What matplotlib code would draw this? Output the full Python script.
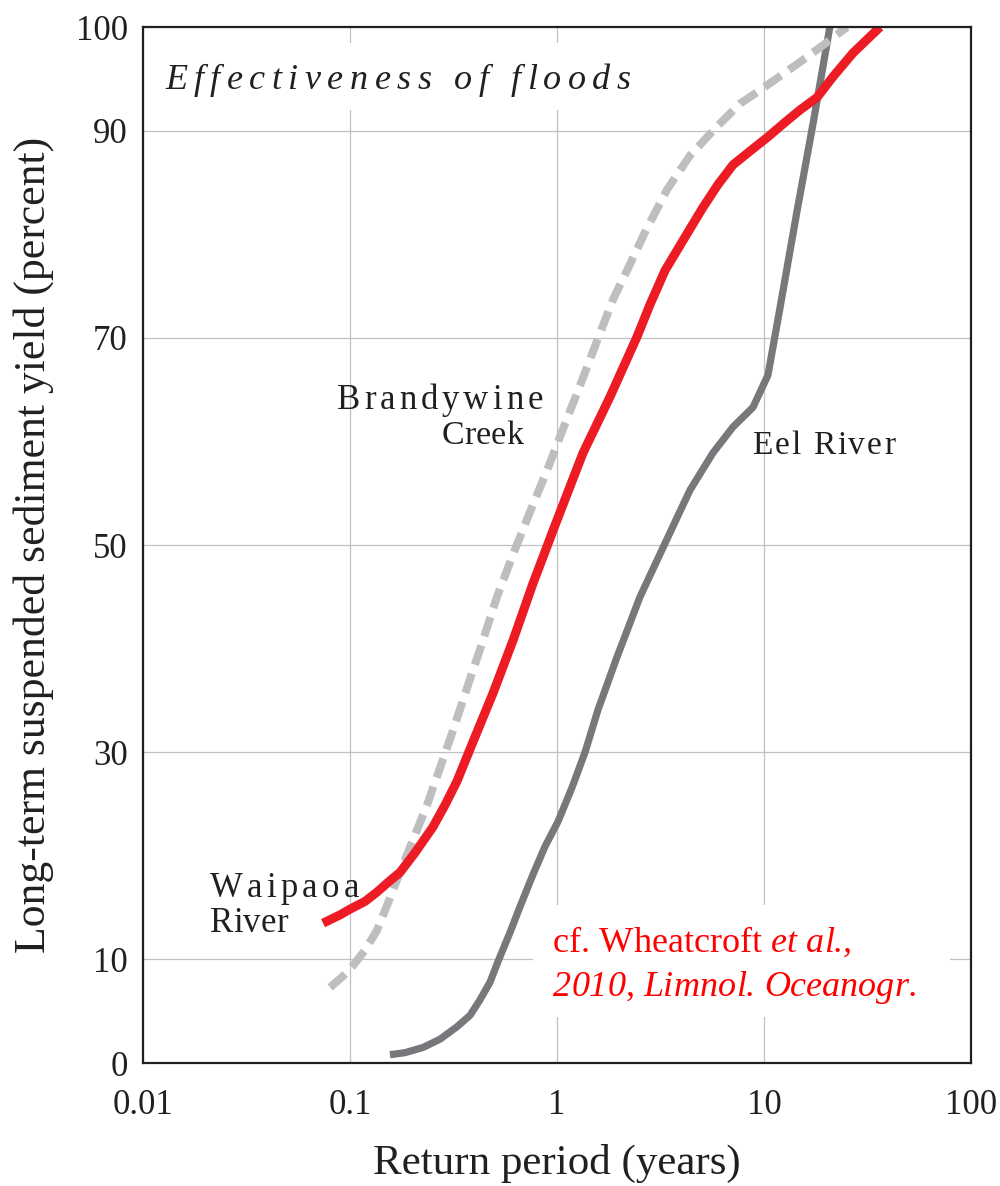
import numpy as np
import matplotlib
matplotlib.use("Agg")
import matplotlib.pyplot as plt
import matplotlib.transforms as mtransforms
from matplotlib.font_manager import FontProperties, findfont, get_font
from matplotlib.patches import Rectangle

# Cumulative suspended sediment yield vs. return period of the transporting flow
waipaoa_period = [0.0741, 0.0895, 0.1011, 0.1182, 0.1350, 0.156, 0.1744, 0.2061, 0.2518,
                  0.2877, 0.3287, 0.3928, 0.4908, 0.6133, 0.7658, 1.0, 1.336, 1.803,
                  2.435, 2.813, 3.325, 4.062, 5.074, 5.995, 7.085, 8.656, 10.45,
                  12.63, 14.93, 18.03, 21.54, 26.92, 36.36]
waipaoa_yield = [13.5, 14.3, 14.9, 15.6, 16.5, 17.6, 18.4, 20.3, 22.8,
                 24.9, 27.2, 31.0, 35.7, 40.8, 46.3, 52.4, 58.9, 64.3,
                 70.1, 73.2, 76.5, 79.4, 82.6, 84.8, 86.7, 88.1, 89.4,
                 90.8, 92.0, 93.2, 95.2, 97.5, 100]

brandywine_period = [0.0801, 0.0915, 0.1034, 0.1182, 0.1350, 0.1509, 0.1687, 0.1886, 0.2108,
                     0.2355, 0.2722, 0.3145, 0.3675, 0.4341, 0.5130, 0.6133, 0.7406, 0.8948,
                     1.069, 1.292, 1.561, 1.865, 2.203, 2.662, 3.400, 4.390, 5.929,
                     7.658, 9.565, 12.63, 16.13, 20.38, 25.18]
brandywine_yield = [7.3, 8.3, 9.4, 10.9, 12.8, 15.2, 17.7, 20.1, 22.5,
                    24.9, 28.5, 32.1, 36.2, 40.5, 45.0, 49.1, 53.2, 57.2,
                    61.2, 65.4, 69.7, 73.7, 76.7, 80.2, 84.3, 87.6, 90.4,
                    92.6, 93.9, 95.6, 97.1, 98.6, 100]

eel_period = [0.156, 0.1844, 0.2253, 0.2722, 0.3287, 0.3800, 0.4246, 0.4746, 0.5188,
              0.5929, 0.6629, 0.7658, 0.8750, 1.011, 1.182, 1.366, 1.578, 1.950,
              2.518, 3.516, 4.390, 5.670, 7.085, 8.850, 10.45, 11.95, 14.4, 17.3, 20.8]
eel_yield = [0.8, 1.0, 1.5, 2.3, 3.5, 4.6, 6.1, 7.8, 9.8,
             12.6, 15.1, 18.2, 20.9, 23.3, 26.6, 30.0, 34.1, 39.2,
             45.0, 51.2, 55.3, 58.9, 61.4, 63.3, 66.4, 72.9, 82.1, 90.8, 100]

x_ticks = [0.01, 0.1, 1, 10, 100]
x_ticklabels = ["0.01", "0.1", "1", "10", "100"]
y_ticks = [0, 10, 30, 50, 70, 90, 100]

RED = "#ED1C24"
LIGHT = "#BCBEC0"
DARK = "#77787B"
INK = "#231F20"
SERIF = "Liberation Serif"

plt.rcParams["font.family"] = [SERIF, "DejaVu Serif"]

fig = plt.figure(figsize=(10, 11.86), dpi=100)
ax = fig.add_axes([0.143, 0.1037, 0.828, 0.8735])


def spaced_text(x, y, pieces, size, track=0.0, color=INK, zorder=3):
    # draw glyph by glyph so letter spacing can be widened
    dx = 0.0
    for s, style in pieces:
        fp = FontProperties(family=SERIF, style=style, size=size)
        font = get_font(findfont(fp))
        font.set_size(size, fig.dpi)
        for ch in s:
            tr = mtransforms.offset_copy(ax.transData, fig=fig, x=dx * 72 / fig.dpi,
                                         y=0, units="points")
            ax.text(x, y, ch, transform=tr, fontproperties=fp, color=color,
                    ha="left", va="baseline", zorder=zorder)
            adv = font.load_char(ord(ch)).linearHoriAdvance / 65536
            dx += adv + track


ax.set_xscale("log")
ax.set_xlim(0.01, 100)
ax.set_ylim(0, 100)
ax.set_axisbelow(True)
ax.grid(True, color="#C0C0C0", linewidth=0.9)
ax.minorticks_off()
ax.set_xticks(x_ticks)
ax.set_xticklabels(x_ticklabels)
ax.set_yticks(y_ticks)
ax.tick_params(axis="both", length=0, labelsize=25, colors=INK)
ax.tick_params(axis="x", pad=19)
ax.tick_params(axis="y", pad=11)
for sp in ax.spines.values():
    sp.set_linewidth(1.6)
    sp.set_color(INK)

# white panels behind the heading and the citation
ax.add_patch(Rectangle((0.008, 0.92), 0.604, 0.065, transform=ax.transAxes,
                       facecolor="white", edgecolor="none", zorder=1))
ax.add_patch(Rectangle((0.471, 0.044), 0.504, 0.109, transform=ax.transAxes,
                       facecolor="white", edgecolor="none", zorder=1))

ax.plot(eel_period, eel_yield, color=DARK, lw=5.2, solid_capstyle="butt",
        solid_joinstyle="round", zorder=2)
ax.plot(brandywine_period, brandywine_yield, color=LIGHT, lw=5.8,
        dashes=(2.5, 1.2), dash_capstyle="butt", dash_joinstyle="round", zorder=2)
ax.plot(waipaoa_period, waipaoa_yield, color=RED, lw=6.5, solid_capstyle="butt",
        solid_joinstyle="round", zorder=2.5)

ax.set_xlabel("Return period (years)", fontsize=31, color=INK)
ax.set_ylabel("Long-term suspended sediment yield (percent)", fontsize=31.5, color=INK)
ax.xaxis.set_label_coords(0.5, -0.078)
ax.yaxis.set_label_coords(-0.108, 0.5)

spaced_text(0.01277, 94.0, [("Effectiveness of floods", "italic")], 26, track=6.5)
spaced_text(0.0211, 16.0, [("Waipaoa", "normal")], 25, track=4.2)
spaced_text(0.0211, 12.6, [("River", "normal")], 25)
spaced_text(0.0865, 63.1, [("Brandywine", "normal")], 25, track=4.0)
spaced_text(0.278, 59.8, [("Creek", "normal")], 24.5)
spaced_text(8.75, 58.8, [("Eel River", "normal")], 24, track=2.0)
spaced_text(0.957, 10.7, [("cf. Wheatcroft ", "normal"), ("et al.,", "italic")], 26, color="#FF0000")
spaced_text(0.957, 6.5, [("2010", "italic"), (", ", "normal"), ("Limnol. Oceanogr.", "italic")],
            26, color="#FF0000")

fig.savefig("out.png", dpi=100)
